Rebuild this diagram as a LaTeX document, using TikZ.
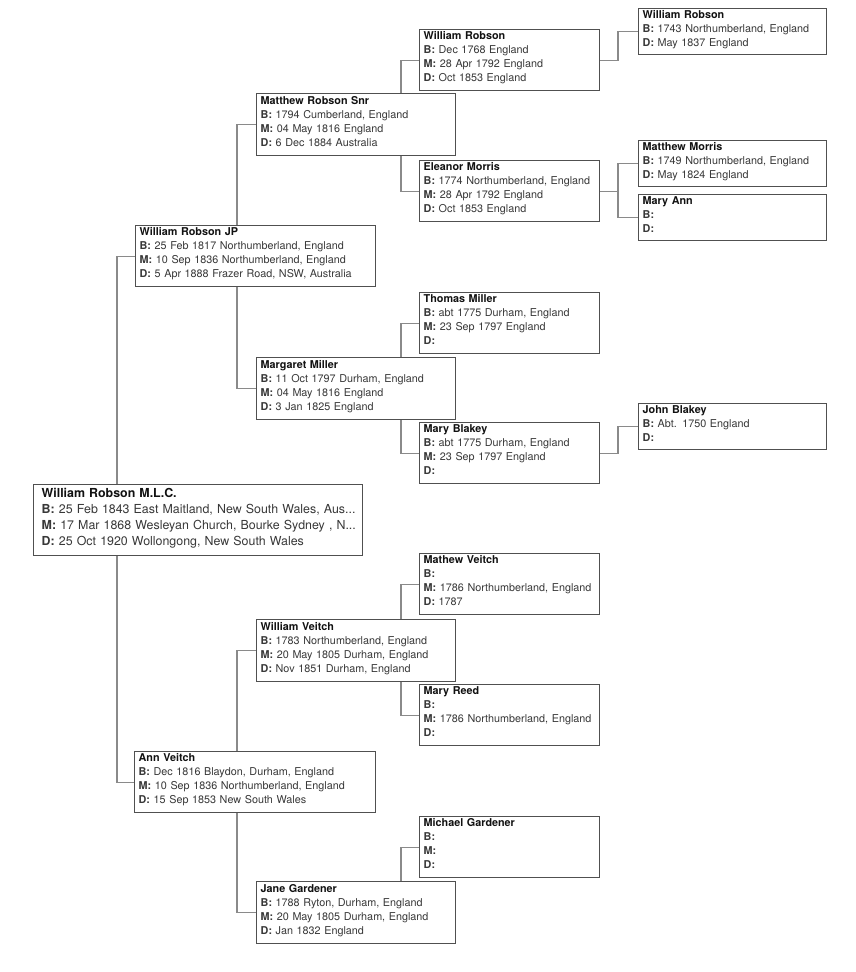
\documentclass[tikz,border=0pt]{standalone}
\usepackage{fontspec}
\setmainfont{TeX Gyre Heros}
\definecolor{boxc}{HTML}{505050}
\definecolor{linec}{HTML}{8A8A8A}
\definecolor{txtc}{HTML}{383838}
\definecolor{namec}{HTML}{111111}
\newcommand\pname[1]{\mbox{\bfseries\color{namec}#1}}
\newcommand\prow[2]{\mbox{{\bfseries #1} #2}}
\begin{document}
\begin{tikzpicture}[x=1pt,y=-1pt,
 pbox/.style={draw=boxc, line width=1.4pt, fill=white, rectangle, anchor=north west, align=left, inner xsep=4pt, inner ysep=0pt, text=txtc, font=\fontsize{10.8}{14}\selectfont, execute at end node={\rule[-7pt]{0pt}{0pt}}},
 g4/.style={pbox, text width=172pt, minimum height=61pt},
 g3/.style={pbox, text width=191pt, minimum height=62pt},
 g5/.style={pbox, text width=180pt, minimum height=46pt},
 conn/.style={draw=linec, line width=1.2pt}]
\fill[white] (0,0) rectangle (856,972);
\useasboundingbox (0,0) rectangle (856,972);

% root
\node[pbox, inner xsep=8pt, text width=313pt, minimum height=71pt, font=\fontsize{12.4}{16.2}\selectfont] (root) at (33,484)
 {\pname{William Robson M.L.C.}\\
  \prow{B:}{25 Feb 1843 East Maitland, New South Wales, Aus...}\\
  \prow{M:}{17 Mar 1868 Wesleyan Church, Bourke Sydney , N...}\\
  \prow{D:}{25 Oct 1920 Wollongong, New South Wales}};

% generation 2
\node[pbox, text width=232pt, minimum height=61pt] (wrjp) at (135,225)
 {\pname{William Robson JP}\\
  \prow{B:}{25 Feb 1817 Northumberland, England}\\
  \prow{M:}{10 Sep 1836 Northumberland, England}\\
  \prow{D:}{5 Apr 1888 Frazer Road, NSW, Australia}};
\node[pbox, text width=233pt, minimum height=61pt] (av) at (134,751)
 {\pname{Ann Veitch}\\
  \prow{B:}{Dec 1816 Blaydon, Durham, England}\\
  \prow{M:}{10 Sep 1836 Northumberland, England}\\
  \prow{D:}{15 Sep 1853 New South Wales}};

% generation 3
\node[g3] (mrs) at (256,93)
 {\pname{Matthew Robson Snr}\\
  \prow{B:}{1794 Cumberland, England}\\
  \prow{M:}{04 May 1816 England}\\
  \prow{D:}{6 Dec 1884 Australia}};
\node[g3] (mm) at (256,357)
 {\pname{Margaret Miller}\\
  \prow{B:}{11 Oct 1797 Durham, England}\\
  \prow{M:}{04 May 1816 England}\\
  \prow{D:}{3 Jan 1825 England}};
\node[g3] (wv) at (256,619)
 {\pname{William Veitch}\\
  \prow{B:}{1783 Northumberland, England}\\
  \prow{M:}{20 May 1805 Durham, England}\\
  \prow{D:}{Nov 1851 Durham, England}};
\node[g3] (jg) at (256,881)
 {\pname{Jane Gardener}\\
  \prow{B:}{1788 Ryton, Durham, England}\\
  \prow{M:}{20 May 1805 Durham, England}\\
  \prow{D:}{Jan 1832 England}};

% generation 4
\node[g4] (wr4) at (419,29)
 {\pname{William Robson}\\
  \prow{B:}{Dec 1768 England}\\
  \prow{M:}{28 Apr 1792 England}\\
  \prow{D:}{Oct 1853 England}};
\node[g4] (em) at (419,160)
 {\pname{Eleanor Morris}\\
  \prow{B:}{1774 Northumberland, England}\\
  \prow{M:}{28 Apr 1792 England}\\
  \prow{D:}{Oct 1853 England}};
\node[g4] (tm) at (419,292)
 {\pname{Thomas Miller}\\
  \prow{B:}{abt 1775 Durham, England}\\
  \prow{M:}{23 Sep 1797 England}\\
  \prow{D:}{}};
\node[g4] (mb) at (419,422)
 {\pname{Mary Blakey}\\
  \prow{B:}{abt 1775 Durham, England}\\
  \prow{M:}{23 Sep 1797 England}\\
  \prow{D:}{}};
\node[g4] (mv) at (419,553)
 {\pname{Mathew Veitch}\\
  \prow{B:}{}\\
  \prow{M:}{1786 Northumberland, England}\\
  \prow{D:}{1787}};
\node[g4] (mr) at (419,684)
 {\pname{Mary Reed}\\
  \prow{B:}{}\\
  \prow{M:}{1786 Northumberland, England}\\
  \prow{D:}{}};
\node[g4] (mg) at (419,816)
 {\pname{Michael Gardener}\\
  \prow{B:}{}\\
  \prow{M:}{}\\
  \prow{D:}{}};

% generation 5
\node[g5] (wr5) at (638,8)
 {\pname{William Robson}\\
  \prow{B:}{1743 Northumberland, England}\\
  \prow{D:}{May 1837 England}};
\node[g5] (mmo) at (638,140)
 {\pname{Matthew Morris}\\
  \prow{B:}{1749 Northumberland, England}\\
  \prow{D:}{May 1824 England}};
\node[g5] (ma) at (638,194)
 {\pname{Mary Ann}\\
  \prow{B:}{}\\
  \prow{D:}{}};
\node[g5] (jb) at (638,403)
 {\pname{John Blakey}\\
  \prow{B:}{Abt. 1750 England}\\
  \prow{D:}{}};

% connectors
\draw[conn] ([xshift=-18pt]wrjp.west |- root.north) |- (wrjp.west);
\draw[conn] ([xshift=-17pt]av.west |- root.south) |- (av.west);
\draw[conn] ([xshift=-19pt]mrs.west |- wrjp.north) |- (mrs.west);
\draw[conn] ([xshift=-19pt]mm.west |- wrjp.south) |- (mm.west);
\draw[conn] ([xshift=-19pt]wv.west |- av.north) |- (wv.west);
\draw[conn] ([xshift=-19pt]jg.west |- av.south) |- (jg.west);
\draw[conn] ([xshift=-18pt]wr4.west |- mrs.north) |- (wr4.west);
\draw[conn] ([xshift=-18pt]em.west |- mrs.south) |- (em.west);
\draw[conn] ([xshift=-18pt]tm.west |- mm.north) |- (tm.west);
\draw[conn] ([xshift=-18pt]mb.west |- mm.south) |- (mb.west);
\draw[conn] ([xshift=-18pt]mv.west |- wv.north) |- (mv.west);
\draw[conn] ([xshift=-18pt]mr.west |- wv.south) |- (mr.west);
\draw[conn] ([xshift=-18pt]mg.west |- jg.north) |- (mg.west);
\draw[conn] (wr4.east) -- ([xshift=-20pt]wr5.west |- wr4.east) |- (wr5.west);
\draw[conn] (em.east) -- ([xshift=-20pt]mmo.west |- em.east) |- (mmo.west);
\draw[conn] ([xshift=-20pt]ma.west |- em.east) |- (ma.west);
\draw[conn] (mb.east) -- ([xshift=-20pt]jb.west |- mb.east) |- (jb.west);
\end{tikzpicture}
\end{document}
